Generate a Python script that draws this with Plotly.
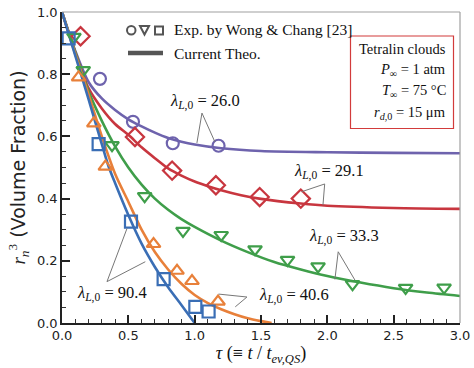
import plotly.graph_objects as go

# ---------------- data ----------------
# Theory curves
tau_purple = [0, 0.1, 0.2, 0.3, 0.4, 0.5, 0.6, 0.7, 0.8, 0.9, 1.0, 1.2, 1.5, 2.0, 2.5, 3.0]
r3_purple = [1.0, 0.875, 0.775, 0.722, 0.685, 0.655, 0.632, 0.612, 0.595, 0.583, 0.574, 0.562, 0.553, 0.549, 0.547, 0.546]

tau_red = [0, 0.1, 0.2, 0.3, 0.4, 0.5, 0.6, 0.7, 0.8, 0.9, 1.0, 1.1, 1.2, 1.35, 1.5, 1.8, 2.0, 2.5, 3.0]
r3_red = [1.0, 0.87, 0.755, 0.69, 0.64, 0.605, 0.565, 0.53, 0.497, 0.474, 0.455, 0.44, 0.427, 0.411, 0.399, 0.384, 0.377, 0.37, 0.367]

tau_green = [0, 0.1, 0.2, 0.3, 0.4, 0.5, 0.6, 0.7, 0.8, 0.9, 1.0, 1.2, 1.4, 1.6, 1.8, 2.0, 2.25, 2.5, 2.75, 3.0]
r3_green = [1.0, 0.87, 0.745, 0.65, 0.568, 0.5, 0.445, 0.4, 0.364, 0.334, 0.309, 0.265, 0.228, 0.196, 0.172, 0.151, 0.13, 0.112, 0.098, 0.087]

tau_orange = [0, 0.1, 0.2, 0.3, 0.4, 0.5, 0.6, 0.7, 0.8, 0.9, 1.0, 1.1, 1.2, 1.3, 1.4, 1.5, 1.58]
r3_orange = [1.0, 0.865, 0.735, 0.6, 0.48, 0.39, 0.3, 0.228, 0.172, 0.126, 0.09, 0.064, 0.044, 0.028, 0.015, 0.006, 0.0]

tau_blue = [0, 0.1, 0.2, 0.3, 0.35, 0.4, 0.5, 0.6, 0.7, 0.8, 0.9, 1.0]
r3_blue = [1.0, 0.86, 0.72, 0.575, 0.505, 0.45, 0.347, 0.255, 0.18, 0.115, 0.058, 0.0]

# Experimental points (Wong & Chang)
exp_tau_circle = [0.286, 0.535, 0.835, 1.18]
exp_r3_circle = [0.785, 0.647, 0.578, 0.570]

exp_tau_diamond = [0.14, 0.55, 0.83, 1.16, 1.49, 1.80]
exp_r3_diamond = [0.922, 0.598, 0.49, 0.443, 0.405, 0.40]

exp_tau_tridown = [0.09, 0.16, 0.377, 0.623, 0.912, 1.2, 1.455, 1.70, 1.93, 2.19, 2.59, 2.88]
exp_r3_tridown = [0.92, 0.813, 0.572, 0.408, 0.296, 0.283, 0.237, 0.203, 0.182, 0.125, 0.113, 0.114]

exp_tau_triup = [0.125, 0.24, 0.327, 0.69, 0.867, 0.98, 1.176]
exp_r3_triup = [0.79, 0.642, 0.503, 0.254, 0.168, 0.135, 0.069]

exp_tau_square = [0.05, 0.276, 0.52, 0.766, 1.005, 1.105]
exp_r3_square = [0.915, 0.575, 0.326, 0.141, 0.052, 0.037]

lambda_labels = ["26.0", "29.1", "33.3", "40.6", "90.4"]

x_ticks = [0.0, 0.5, 1.0, 1.5, 2.0, 2.5, 3.0]
y_ticks = [0.0, 0.2, 0.4, 0.6, 0.8, 1.0]

# ---------------- styling / layout config ----------------
C_BLUE = "#3a6eb5"
C_ORANGE = "#e8803a"
C_GREEN = "#3f9e4a"
C_RED = "#c8363f"
C_PURPLE = "#6e63ad"
SERIF = "Liberation Serif"
SANS = "DejaVu Sans"

fig = go.Figure()

curves = [
    (tau_purple, r3_purple, C_PURPLE),
    (tau_red, r3_red, C_RED),
    (tau_green, r3_green, C_GREEN),
    (tau_orange, r3_orange, C_ORANGE),
    (tau_blue, r3_blue, C_BLUE),
]
for tx, ty, col in curves:
    fig.add_trace(go.Scatter(x=tx, y=ty, mode="lines", line=dict(color=col, width=2.6, shape="spline", smoothing=0.8),
                             showlegend=False, hoverinfo="skip"))

markers = [
    (exp_tau_circle, exp_r3_circle, C_PURPLE, "circle-open", 12),
    (exp_tau_diamond, exp_r3_diamond, C_RED, "diamond-open", 14),
    (exp_tau_tridown, exp_r3_tridown, C_GREEN, "triangle-down-open", 12),
    (exp_tau_triup, exp_r3_triup, C_ORANGE, "triangle-up-open", 12),
    (exp_tau_square, exp_r3_square, C_BLUE, "square-open", 12),
]
for mx, my, col, sym, sz in markers:
    fig.add_trace(go.Scatter(x=mx, y=my, mode="markers",
                             marker=dict(symbol=sym, size=sz, color=col, line=dict(color=col, width=2.2)),
                             showlegend=False, hoverinfo="skip"))

# callouts: label position, apex, two ends (data coords)
callouts = [
    ((1.078, 0.711), (1.055, 0.675), (1.017, 0.579), (1.153, 0.582)),
    ((2.012, 0.486), (1.98, 0.447), (1.967, 0.379), (1.806, 0.422)),
    ((2.125, 0.277), (2.082, 0.229), (2.057, 0.14), (2.208, 0.138)),
    ((1.748, 0.090), (1.394, 0.0836), (1.18, 0.093), (1.306, 0.052)),
    ((0.377, 0.096), (0.339, 0.133), (0.49, 0.304), (0.628, 0.197)),
]
shapes = []
annotations = []
for lab, (lp, apex, e1, e2) in zip(lambda_labels, callouts):
    for e in (e1, e2):
        shapes.append(dict(type="line", xref="x", yref="y", x0=apex[0], y0=apex[1], x1=e[0], y1=e[1],
                           line=dict(color="#777777", width=1)))
    annotations.append(dict(x=lp[0], y=lp[1], xref="x", yref="y", showarrow=False,
                            text="<i>λ</i><sub><i>L</i>,0</sub> = " + lab,
                            font=dict(family=SERIF, size=16.5, color="#111111"),
                            xanchor="center", yanchor="middle"))

# frame top/right (light gray)
shapes.append(dict(type="line", xref="paper", yref="paper", x0=0, y0=1, x1=1, y1=1, line=dict(color="#a0a0a0", width=1.2)))
shapes.append(dict(type="line", xref="paper", yref="paper", x0=1, y0=0, x1=1, y1=1, line=dict(color="#a0a0a0", width=1.2)))

W, H = 474, 368
PL, PR, PT, PB = 62, 460, 12, 323  # plot area in pixels
L, R, T, B = PL, W - PR, PT, H - PB
pw, ph = PR - PL, PB - PT


def px(xp):
    return (xp - PL) / pw


def py(yp):
    return (PB - yp) / ph


leg_gray = "#555555"
shapes.append(dict(type="circle", xref="paper", yref="paper", x0=px(127), x1=px(135.5), y0=py(26), y1=py(34.5),
                   line=dict(color=leg_gray, width=2)))
shapes.append(dict(type="path", xref="paper", yref="paper",
                   path=f"M {px(140)} {py(26)} L {px(149)} {py(26)} L {px(144.5)} {py(34.5)} Z",
                   line=dict(color=leg_gray, width=2)))
shapes.append(dict(type="rect", xref="paper", yref="paper", x0=px(155), x1=px(163), y0=py(26.5), y1=py(34.5),
                   line=dict(color=leg_gray, width=2)))
shapes.append(dict(type="line", xref="paper", yref="paper", x0=px(128), x1=px(163), y0=py(53), y1=py(53),
                   line=dict(color=leg_gray, width=4.5)))
annotations.append(dict(x=px(172), y=py(30), xref="paper", yref="paper", showarrow=False, xanchor="left",
                        yanchor="middle", text="Exp. by Wong &amp; Chang [23]",
                        font=dict(family=SERIF, size=15.5, color="#111111")))
annotations.append(dict(x=px(172), y=py(54), xref="paper", yref="paper", showarrow=False, xanchor="left",
                        yanchor="middle", text="Current Theo.",
                        font=dict(family=SERIF, size=15.5, color="#111111")))

# info box
shapes.append(dict(type="rect", xref="paper", yref="paper", x0=px(350.5), x1=px(453.5), y0=py(36), y1=py(128.5),
                   line=dict(color="#d23b3b", width=1.2), fillcolor="white"))
info_lines = ["Tetralin clouds",
              "<i>P</i><sub>∞</sub> = 1 atm",
              "<i>T</i><sub>∞</sub> = 75 °C",
              "<i>r</i><sub><i>d</i>,0</sub> = 15 μm"]
info_y = [49, 70, 91, 113]
for t, yy in zip(info_lines, info_y):
    annotations.append(dict(x=px(448), y=py(yy), xref="paper", yref="paper", showarrow=False, xanchor="right",
                            yanchor="middle", text=t, font=dict(family=SERIF, size=14.5, color="#111111")))

fig.update_layout(
    width=W, height=H,
    margin=dict(l=L, r=R, t=T, b=B, autoexpand=False),
    plot_bgcolor="white", paper_bgcolor="white",
    shapes=shapes, annotations=annotations,
    showlegend=False,
)
fig.update_xaxes(range=[0, 3], tickvals=x_ticks, ticktext=[f"{v:.1f}" for v in x_ticks],
                 ticks="inside", ticklen=8, tickwidth=1.5, tickcolor="#222222",
                 minor=dict(dtick=0.1, ticks="inside", ticklen=4, tickwidth=1, tickcolor="#333333"),
                 showline=True, linecolor="#222222", linewidth=1.5, showgrid=False, zeroline=False,
                 ticklabeloverflow="allow",
                 tickfont=dict(family=SANS, size=13, color="#222222"),
                 title=dict(text="<i>τ</i> (≡ <i>t</i> / <i>t</i><sub><i>ev,QS</i></sub>)",
                            font=dict(family=SERIF, size=18, color="#111111"), standoff=0))
fig.update_yaxes(range=[0, 1], tickvals=y_ticks, ticktext=[f"{v:.1f}" for v in y_ticks],
                 ticks="inside", ticklen=8, tickwidth=1.5, tickcolor="#222222",
                 minor=dict(dtick=0.05, ticks="inside", ticklen=4, tickwidth=1, tickcolor="#333333"),
                 showline=True, linecolor="#222222", linewidth=1.5, showgrid=False, zeroline=False,
                 ticklabeloverflow="allow",
                 tickfont=dict(family=SANS, size=13, color="#222222"),
                 title=dict(text="<span style='font-family:Liberation Serif'><i>r</i><sub><i>n</i></sub><sup>3</sup></span> (Volume Fraction)",
                            font=dict(family=SANS, size=19, color="#222222"), standoff=6))

# remove the default 8px page margin so the figure fills the window exactly
fig.write_html("out.html", config={"displayModeBar": False},
               post_script="document.body.style.margin='0';document.body.style.overflow='hidden';")
